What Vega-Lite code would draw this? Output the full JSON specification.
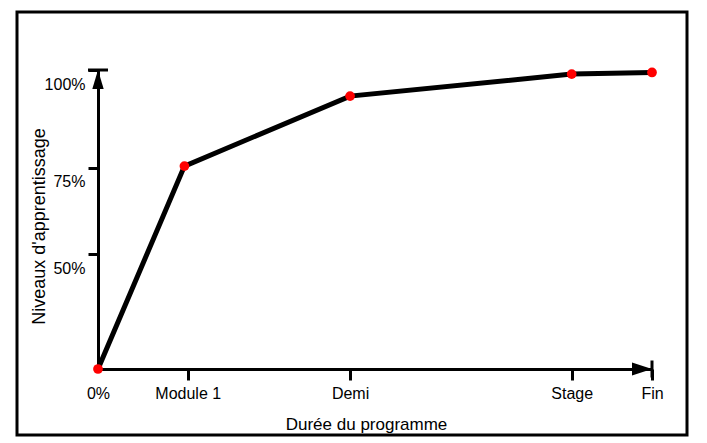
{
  "$schema": "https://vega.github.io/schema/vega-lite/v6.json",
  "width": 670,
  "height": 423,
  "autosize": {"type": "none"},
  "padding": {"left": 17, "top": 12, "right": 20, "bottom": 8},
  "background": "white",
  "view": {"stroke": "black", "strokeWidth": 3, "fill": "white"},
  "config": {
    "font": "Liberation Sans",
    "axis": {
      "domainColor": "black",
      "domainWidth": 3,
      "tickColor": "black",
      "tickWidth": 3,
      "labelColor": "black",
      "titleColor": "black",
      "labelFontSize": 16,
      "titleFontSize": 17,
      "titleFontWeight": "normal",
      "grid": false
    }
  },
  "datasets": {
    "niveaux": [
      {"duree": 0, "niveau": 0, "etape": "0%"},
      {"duree": 15.6, "niveau": 75.5, "etape": "Module 1"},
      {"duree": 45.5, "niveau": 93.6, "etape": "Demi"},
      {"duree": 85.5, "niveau": 99.0, "etape": "Stage"},
      {"duree": 100, "niveau": 99.4, "etape": "Fin"}
    ],
    "axe_y": [{"duree": 0, "niveau": 100}],
    "axe_x": [{"duree": 100, "niveau": 0}]
  },
  "encoding": {
    "x": {
      "field": "duree",
      "type": "quantitative",
      "scale": {"domain": [0, 100], "range": [81, 635], "nice": false, "zero": false},
      "axis": {
        "values": [0, 16.2, 45.5, 85.5, 100],
        "labelExpr": "datum.value == 0 ? '0%' : datum.value == 16.2 ? 'Module 1' : datum.value == 45.5 ? 'Demi' : datum.value == 85.5 ? 'Stage' : 'Fin'",
        "offset": -66,
        "tickSize": 11,
        "labelPadding": 5,
        "labelFlush": false,
        "labelOverlap": false,
        "tickColor": {"condition": {"test": "datum.value == 0", "value": "transparent"}, "value": "black"},
        "title": "Durée du programme",
        "titleBaseline": "alphabetic",
        "titleAnchor": "start",
        "titleAlign": "center",
        "titleX": 349,
        "titleY": 60
      }
    },
    "y": {
      "field": "niveau",
      "type": "quantitative",
      "scale": {"type": "pow", "exponent": 1.38, "domain": [0, 100], "range": [357, 58], "nice": false},
      "axis": {
        "values": [50, 75, 100],
        "labelExpr": "datum.value + '%'",
        "offset": -81,
        "tickSize": 10,
        "labelPadding": 3,
        "labelBaseline": "top",
        "labelOffset": 6,
        "labelFlush": false,
        "labelOverlap": false,
        "title": "Niveaux d'apprentissage",
        "titleFontSize": 18,
        "titleAngle": -90,
        "titleBaseline": "alphabetic",
        "titleAlign": "center",
        "titleAnchor": "start",
        "titleX": -54,
        "titleY": 214
      }
    }
  },
  "layer": [
    {
      "data": {"name": "axe_y"},
      "mark": {"type": "point", "shape": "M0,0L-0.3,1L0.3,1Z", "size": 1444, "filled": true, "color": "black", "opacity": 1}
    },
    {
      "data": {"name": "axe_x"},
      "mark": {"type": "point", "shape": "M0,0L-1,-0.33L-1,0.33Z", "size": 1600, "filled": true, "color": "black", "opacity": 1}
    },
    {
      "data": {"name": "axe_y"},
      "mark": {"type": "tick", "orient": "horizontal", "size": 20, "thickness": 3, "color": "black", "opacity": 1}
    },
    {
      "data": {"name": "axe_x"},
      "mark": {"type": "tick", "orient": "vertical", "size": 17, "thickness": 3, "color": "black", "opacity": 1}
    },
    {
      "data": {"name": "niveaux"},
      "mark": {"type": "line", "color": "black", "strokeWidth": 5}
    },
    {
      "data": {"name": "niveaux"},
      "mark": {"type": "point", "shape": "circle", "filled": true, "size": 95, "color": "#ff0000", "opacity": 1}
    }
  ]
}
